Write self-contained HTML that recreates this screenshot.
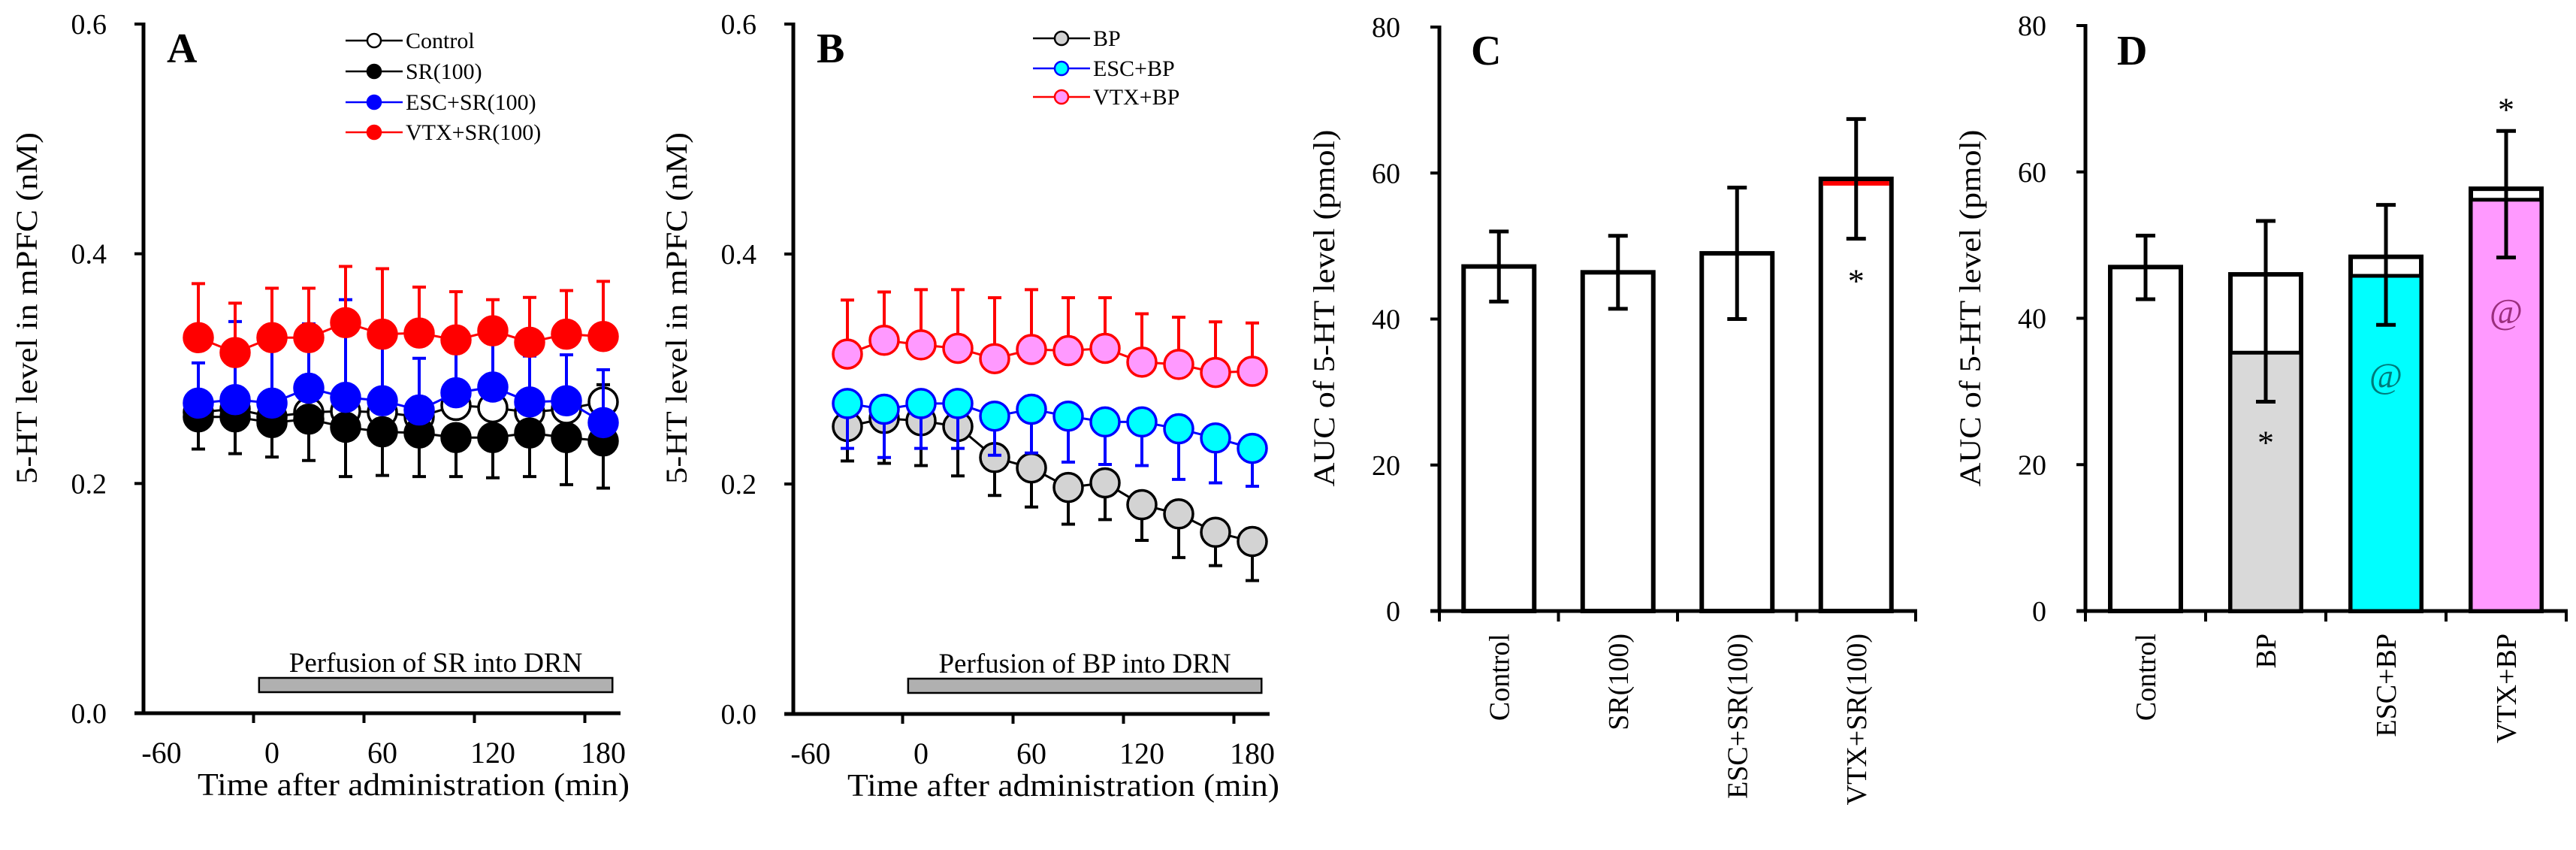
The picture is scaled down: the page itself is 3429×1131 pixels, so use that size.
<!DOCTYPE html>
<html><head><meta charset="utf-8"><title>5-HT levels in mPFC – panels A–D</title>
<style>
html,body{margin:0;padding:0;background:#fff;}
svg{display:block;font-family:"Liberation Serif",serif;}
</style></head>
<body>
<svg id="fig" width="3429" height="1131" viewBox="0 0 3429 1131" xmlns="http://www.w3.org/2000/svg"></svg>
<script>
// ---------- DATA ----------
const times = [-40,-20,0,20,40,60,80,100,120,140,160,180];
const xTickLabels = [-60,0,60,120,180];
const yTickLabelsLine = [0.0,0.2,0.4,0.6];
const A_control = [0.262,0.265,0.258,0.262,0.263,0.262,0.258,0.268,0.266,0.262,0.265,0.271];
const A_control_err = [0.015,0.015,0.015,0.015,0.015,0.015,0.015,0.015,0.015,0.015,0.015,0.015];
const A_sr = [0.258,0.258,0.253,0.256,0.249,0.245,0.244,0.240,0.240,0.244,0.240,0.237];
const A_sr_err = [0.028,0.032,0.030,0.036,0.043,0.038,0.038,0.034,0.035,0.038,0.041,0.041];
const A_esc = [0.270,0.273,0.270,0.283,0.275,0.272,0.264,0.279,0.284,0.271,0.272,0.253];
const A_esc_err = [0.035,0.068,0.060,0.056,0.085,0.048,0.045,0.040,0.045,0.040,0.040,0.046];
const A_vtx = [0.327,0.314,0.327,0.327,0.340,0.330,0.331,0.325,0.333,0.323,0.330,0.328];
const A_vtx_err = [0.047,0.043,0.043,0.043,0.049,0.057,0.040,0.042,0.027,0.039,0.038,0.048];
const B_bp = [0.250,0.257,0.255,0.250,0.223,0.214,0.197,0.201,0.182,0.174,0.158,0.150];
const B_bp_err = [0.030,0.039,0.039,0.043,0.033,0.034,0.032,0.032,0.031,0.038,0.029,0.034];
const B_esc = [0.270,0.265,0.270,0.270,0.259,0.265,0.259,0.254,0.254,0.248,0.240,0.231];
const B_esc_err = [0.039,0.042,0.039,0.039,0.034,0.038,0.040,0.037,0.038,0.044,0.039,0.033];
const B_vtx = [0.313,0.325,0.321,0.318,0.309,0.317,0.316,0.318,0.306,0.304,0.297,0.298];
const B_vtx_err = [0.047,0.042,0.048,0.051,0.053,0.052,0.046,0.044,0.042,0.041,0.044,0.042];

const yTickLabelsBar = [0,20,40,60,80];
const C_categories = ["Control","SR(100)","ESC+SR(100)","VTX+SR(100)"];
const C_values = [47.2,46.4,49.0,59.2];
const C_err = [4.8,5.0,9.0,8.2];
const D_categories = ["Control","BP","ESC+BP","VTX+BP"];
const D_outline = [47.0,46.0,48.4,57.7];
const D_outline_err = [4.3,7.3,7.1,7.9];
const D_fill = [47.0,35.3,45.8,56.2];
const D_fill_err = [4.4,6.7,6.7,7.9];

// ---------- HELPERS ----------
const NS = "http://www.w3.org/2000/svg";
const svg = document.getElementById("fig");
function mk(parent, tag, attrs, text){
  const e = document.createElementNS(NS, tag);
  for (const k in attrs) e.setAttribute(k, attrs[k]);
  if (text !== undefined) e.textContent = text;
  parent.appendChild(e);
  return e;
}
function grp(name){
  const g = mk(svg, "g", {});
  
  
  return g;
}

// ---------- LINE PANELS ----------
function linePanel(cfg){
  const g = grp(cfg.name);
  const x = t => cfg.x0 + (t) * cfg.pxPerMin;
  const y = v => cfg.yBottom - (v/0.6) * (cfg.yBottom - cfg.yTop);
  const ya = mk(g,"line",{x1:cfg.axisX,y1:cfg.yTop-2,x2:cfg.axisX,y2:cfg.yBottom+2,stroke:"#000","stroke-width":5});
  
  
  const xa = mk(g,"line",{x1:cfg.axisX-12,y1:cfg.yBottom,x2:cfg.axisEnd,y2:cfg.yBottom,stroke:"#000","stroke-width":5});
  
  
  yTickLabelsLine.forEach(v=>{
    const tk = mk(g,"line",{x1:cfg.axisX-12,y1:y(v),x2:cfg.axisX,y2:y(v),stroke:"#000","stroke-width":4});
    
    
    const tl = mk(g,"text",{x:cfg.axisX-49,y:y(v)+13,"text-anchor":"end","font-size":38},v.toFixed(1));
    
    
  });
  [-10,50,110,170].forEach(t=>{
    const tk = mk(g,"line",{x1:x(t),y1:cfg.yBottom,x2:x(t),y2:cfg.yBottom+13,stroke:"#000","stroke-width":4});
    
    
  });
  xTickLabels.forEach(t=>{
    const tl = mk(g,"text",{x:x(t),y:cfg.yBottom+66,"text-anchor":"middle","font-size":40},String(t));
    
    
  });
  const xt = mk(g,"text",{x:cfg.axisX+72,y:cfg.yBottom+109,"font-size":42,textLength:575,lengthAdjust:"spacingAndGlyphs"},"Time after administration (min)");
  
  
  const yt = mk(g,"text",{x:0,y:0,"text-anchor":"middle","font-size":40,textLength:468,lengthAdjust:"spacingAndGlyphs",transform:`translate(${cfg.axisX-142},410) rotate(-90)`},"5-HT level in mPFC (nM)");
  
  
  const pl = mk(g,"text",{x:cfg.axisX+31,y:83,"font-size":56,"font-weight":"bold"},cfg.letter);
  
  
  const pb = mk(g,"rect",{x:x(-7),y:cfg.yBottom-47,width:x(185)-x(-7),height:19,fill:"#b0b0b0",stroke:"#000","stroke-width":2.5});
  
  
  const pt = mk(g,"text",{x:(x(-7)+x(185))/2,y:cfg.yBottom-55,"text-anchor":"middle","font-size":37},cfg.perfText);
  
  
  cfg.series.forEach(s=>{
    const sg = mk(g,"g",{});
    
    
    s.vals.forEach((v,i)=>{
      const yv = y(v + s.dir*s.err[i]);
      const eb = mk(sg,"line",{x1:x(times[i]),y1:y(v),x2:x(times[i]),y2:yv,stroke:s.stroke,"stroke-width":4});
      
      
      const cap = mk(sg,"line",{x1:x(times[i])-9,y1:yv,x2:x(times[i])+9,y2:yv,stroke:s.stroke,"stroke-width":4});
      
      
    });
    const pts = s.vals.map((v,i)=>x(times[i])+","+y(v)).join(" ");
    const ln = mk(sg,"polyline",{points:pts,fill:"none",stroke:s.stroke,"stroke-width":3});
    
    
    s.vals.forEach((v,i)=>{
      const c = mk(sg,"circle",{cx:x(times[i]),cy:y(v),r:19,fill:s.fill,stroke:s.stroke,"stroke-width":3.5});
      
      
    });
  });
  const lg = mk(g,"g",{});
  
  
  cfg.legend.forEach((L,i)=>{
    const ly = cfg.legY[i];
    const e = mk(lg,"g",{});
    
    
    mk(e,"line",{x1:cfg.legX,y1:ly,x2:cfg.legX+76,y2:ly,stroke:L.stroke,"stroke-width":2.5});
    mk(e,"circle",{cx:cfg.legX+38,cy:ly,r:9,fill:L.fill,stroke:L.stroke,"stroke-width":2.5});
    mk(e,"text",{x:cfg.legX+80,y:ly+10,"font-size":30},L.label);
  });
}

linePanel({name:"panel-a",letter:"A",axisX:191,axisEnd:826,x0:362,pxPerMin:2.45,yTop:32,yBottom:949,
  perfText:"Perfusion of SR into DRN",legX:460,legY:[54,95,136,176],
  series:[
    {key:"control",vals:A_control,err:A_control_err,dir:1,fill:"#fff",stroke:"#000"},
    {key:"sr100",vals:A_sr,err:A_sr_err,dir:-1,fill:"#000",stroke:"#000"},
    {key:"esc-sr100",vals:A_esc,err:A_esc_err,dir:1,fill:"#0000ff",stroke:"#0000ff"},
    {key:"vtx-sr100",vals:A_vtx,err:A_vtx_err,dir:1,fill:"#ff0000",stroke:"#ff0000"}],
  legend:[{label:"Control",fill:"#fff",stroke:"#000"},{label:"SR(100)",fill:"#000",stroke:"#000"},
    {label:"ESC+SR(100)",fill:"#0000ff",stroke:"#0000ff"},{label:"VTX+SR(100)",fill:"#ff0000",stroke:"#ff0000"}]
});
linePanel({name:"panel-b",letter:"B",axisX:1056,axisEnd:1690,x0:1226,pxPerMin:2.45,yTop:32,yBottom:950,
  perfText:"Perfusion of BP into DRN",legX:1375,legY:[51,91,129],
  series:[
    {key:"bp",vals:B_bp,err:B_bp_err,dir:-1,fill:"#d3d3d3",stroke:"#000"},
    {key:"esc-bp",vals:B_esc,err:B_esc_err,dir:-1,fill:"#00ffff",stroke:"#0000ff"},
    {key:"vtx-bp",vals:B_vtx,err:B_vtx_err,dir:1,fill:"#ff99ff",stroke:"#ff0000"}],
  legend:[{label:"BP",fill:"#d3d3d3",stroke:"#000"},{label:"ESC+BP",fill:"#00ffff",stroke:"#0000ff"},
    {label:"VTX+BP",fill:"#ff99ff",stroke:"#ff0000"}]
});

// ---------- BAR PANELS ----------
function barPanel(cfg){
  const g = grp(cfg.name);
  const y = v => cfg.yBottom - (v/80)*(cfg.yBottom-cfg.yTop);
  const cx = i => cfg.axisX + cfg.catW*(i+0.5);
  const ya = mk(g,"line",{x1:cfg.axisX,y1:cfg.yTop-2,x2:cfg.axisX,y2:cfg.yBottom+2,stroke:"#000","stroke-width":5});
  
  
  const xa = mk(g,"line",{x1:cfg.axisX-12,y1:cfg.yBottom,x2:cfg.axisX+cfg.catW*4+2,y2:cfg.yBottom,stroke:"#000","stroke-width":5});
  
  
  yTickLabelsBar.forEach(v=>{
    const tk = mk(g,"line",{x1:cfg.axisX-12,y1:y(v),x2:cfg.axisX,y2:y(v),stroke:"#000","stroke-width":4});
    
    
    const tl = mk(g,"text",{x:cfg.axisX-52,y:y(v)+13,"text-anchor":"end","font-size":38},String(v));
    
    
  });
  for(let i=0;i<=4;i++){
    const tk = mk(g,"line",{x1:cfg.axisX+cfg.catW*i,y1:cfg.yBottom,x2:cfg.axisX+cfg.catW*i,y2:cfg.yBottom+14,stroke:"#000","stroke-width":4});
    
    
  }
  const yt = mk(g,"text",{x:0,y:0,"text-anchor":"middle","font-size":40,textLength:475,lengthAdjust:"spacingAndGlyphs",transform:`translate(${cfg.axisX-140},410) rotate(-90)`},"AUC of 5-HT level (pmol)");
  
  
  const pl = mk(g,"text",{x:cfg.axisX+42,y:86,"font-size":56,"font-weight":"bold"},cfg.letter);
  
  
  cfg.cats.forEach((c,i)=>{
    const cl = mk(g,"text",{x:0,y:0,"text-anchor":"end","font-size":38,transform:`translate(${cx(i)+13},${cfg.yBottom+30}) rotate(-90)`},c);
    
    
  });
  cfg.draw(g,y,cx);
}

barPanel({name:"panel-c",letter:"C",axisX:1916,catW:158.5,yTop:36,yBottom:813,cats:C_categories,
  draw:(g,y,cx)=>{
    C_values.forEach((v,i)=>{
      const b = mk(g,"rect",{x:cx(i)-47,y:y(v),width:94,height:y(0)-y(v),fill:"#fff",stroke:"#000","stroke-width":6});
      
      
      if(i===3){
        const rl = mk(g,"rect",{x:cx(i)-44,y:y(v)+3,width:88,height:6,fill:"#ff0000"});
        
        
      }
      const e = mk(g,"line",{x1:cx(i),y1:y(v-C_err[i]),x2:cx(i),y2:y(v+C_err[i]),stroke:"#000","stroke-width":5});
      
      
      [v-C_err[i],v+C_err[i]].forEach(w=>{
        const cp = mk(g,"line",{x1:cx(i)-13,y1:y(w),x2:cx(i)+13,y2:y(w),stroke:"#000","stroke-width":5});
        
        
      });
    });
    const st = mk(g,"text",{x:cx(3),y:y(C_values[3]-15.5),"text-anchor":"middle","font-size":44},"*");
    
    
  }
});

const D_fillColors = ["#ffffff","#d9d9d9","#00ffff","#ff99ff"];
barPanel({name:"panel-d",letter:"D",axisX:2776,catW:160,yTop:34,yBottom:813,cats:D_categories,
  draw:(g,y,cx)=>{
    D_outline.forEach((v,i)=>{
      const b = mk(g,"rect",{x:cx(i)-47,y:y(v),width:94,height:y(0)-y(v),fill:"#fff",stroke:"#000","stroke-width":6});
      
      
      if(i>0){
        const f = mk(g,"rect",{x:cx(i)-47,y:y(D_fill[i]),width:94,height:y(0)-y(D_fill[i]),fill:D_fillColors[i],stroke:"#000","stroke-width":5});
        
        
      }
      const top = v + D_outline_err[i], bot = D_fill[i] - D_fill_err[i];
      const e = mk(g,"line",{x1:cx(i),y1:y(bot),x2:cx(i),y2:y(top),stroke:"#000","stroke-width":5});
      
      
      [bot,top].forEach(w=>{
        const cp = mk(g,"line",{x1:cx(i)-13,y1:y(w),x2:cx(i)+13,y2:y(w),stroke:"#000","stroke-width":5});
        
        
      });
    });
    const s1 = mk(g,"text",{x:cx(1),y:y(21.5),"text-anchor":"middle","font-size":44},"*");
    
    
    const s2 = mk(g,"text",{x:cx(3),y:y(67),"text-anchor":"middle","font-size":44},"*");
    
    
    const a1 = mk(g,"text",{x:cx(2),y:y(30.5),"text-anchor":"middle","font-size":48,fill:"#007a7a"},"@");
    
    
    const a2 = mk(g,"text",{x:cx(3),y:y(39.3),"text-anchor":"middle","font-size":48,fill:"#9a2f7d"},"@");
    
    
  }
});
</script>
</body></html>
